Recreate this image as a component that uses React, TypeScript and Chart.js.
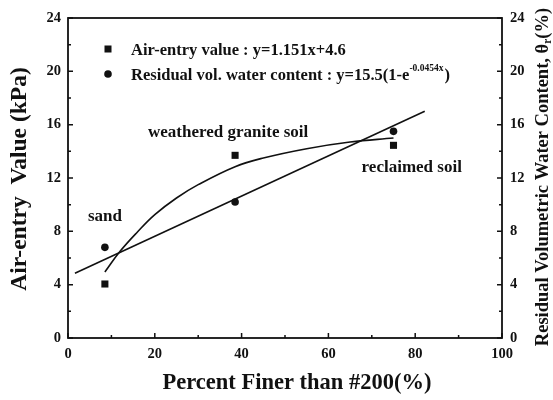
import React, { useEffect, useRef } from "react";
import { Chart, registerables } from "chart.js";

Chart.register(...registerables);

// Measured soils: percent finer than #200 sieve
const finesPct = [8.5, 38.5, 75];
// Air-entry value (kPa), left axis
const airEntryKPa = [4.05, 13.7, 14.45];
// Residual volumetric water content (%), right axis
const residualTheta = [6.8, 10.2, 15.5];
const soilNames = ["sand", "weathered granite soil", "reclaimed soil"];

// Fitted straight line (air-entry value)
const linearFitX = [1.6, 82.2];
const linearFitY = [4.85, 17.0];

// Fitted saturation curve (residual water content)
const expFitX = [8.5, 12, 16, 20, 25, 30, 38.5, 45, 55, 65, 75];
const expFitY = [4.95, 6.5, 7.95, 9.25, 10.5, 11.5, 12.85, 13.5, 14.2, 14.7, 15.0];

const xTickValues = [0, 20, 40, 60, 80, 100];
const yTickValues = [0, 4, 8, 12, 16, 20, 24];

const legendAir = "Air-entry value : y=1.151x+4.6";
const legendResidual = "Residual vol. water content : y=15.5(1-e";
const legendResidualExp = "-0.0454x";

const SERIF = "'Liberation Serif', 'Times New Roman', serif";
const INK = "#111111";

const framePlugin = {
  id: "frameAndText",
  afterDraw(chart: any) {
    const ctx: CanvasRenderingContext2D = chart.ctx;
    const { left, right, top, bottom } = chart.chartArea;
    const xs = chart.scales.x;
    const yl = chart.scales.y;
    ctx.save();
    ctx.strokeStyle = INK;
    ctx.fillStyle = INK;

    // frame
    ctx.lineWidth = 1.8;
    ctx.strokeRect(left, top, right - left, bottom - top);

    // inward tick marks
    ctx.lineWidth = 1.5;
    ctx.beginPath();
    for (let v = 0; v <= 100; v += 10) {
      const px = xs.getPixelForValue(v);
      const len = v % 20 === 0 ? 5 : 3;
      ctx.moveTo(px, bottom);
      ctx.lineTo(px, bottom - len);
    }
    for (let v = 0; v <= 24; v += 2) {
      const py = yl.getPixelForValue(v);
      const len = v % 4 === 0 ? 5 : 3;
      ctx.moveTo(left, py);
      ctx.lineTo(left + len, py);
      ctx.moveTo(right, py);
      ctx.lineTo(right - len, py);
    }
    ctx.stroke();

    // axis titles
    ctx.textBaseline = "middle";
    ctx.textAlign = "center";
    ctx.font = `bold 22.5px ${SERIF}`;
    ctx.fillText("Percent Finer than #200(%)", 297, 383);

    ctx.save();
    ctx.translate(20, 179);
    ctx.rotate(-Math.PI / 2);
    ctx.font = `bold 23.5px ${SERIF}`;
    ctx.fillText("Air-entry  Value (kPa)", 0, 0);
    ctx.restore();

    // right title with subscript r
    ctx.save();
    ctx.translate(543, 177);
    ctx.rotate(-Math.PI / 2);
    const mainFont = `bold 18.5px ${SERIF}`;
    const subFont = `bold 11.5px ${SERIF}`;
    const partA = "Residual Volumetric Water Content, \u03b8";
    const partSub = "r";
    const partB = "(%)";
    ctx.font = mainFont;
    const wA = ctx.measureText(partA).width;
    const wB = ctx.measureText(partB).width;
    ctx.font = subFont;
    const wS = ctx.measureText(partSub).width;
    let cx = -(wA + wS + wB) / 2;
    ctx.textAlign = "left";
    ctx.font = mainFont;
    ctx.fillText(partA, cx, 0);
    cx += wA;
    ctx.font = subFont;
    ctx.fillText(partSub, cx, 5);
    cx += wS;
    ctx.font = mainFont;
    ctx.fillText(partB, cx, 0);
    ctx.restore();

    // legend
    ctx.fillRect(108 - 3.5, 49 - 3.5, 7, 7);
    ctx.beginPath();
    ctx.arc(108, 74, 3.8, 0, Math.PI * 2);
    ctx.fill();
    ctx.textAlign = "left";
    ctx.textBaseline = "alphabetic";
    ctx.font = `bold 16.5px ${SERIF}`;
    ctx.fillText(legendAir, 131, 55);
    ctx.fillText(legendResidual, 131, 80);
    let lx = 131 + ctx.measureText(legendResidual).width;
    ctx.font = `bold 9.5px ${SERIF}`;
    ctx.fillText(legendResidualExp, lx, 71);
    lx += ctx.measureText(legendResidualExp).width;
    ctx.font = `bold 16.5px ${SERIF}`;
    ctx.fillText(")", lx + 1, 80);

    // soil annotations
    ctx.textBaseline = "middle";
    ctx.textAlign = "center";
    ctx.font = `bold 17px ${SERIF}`;
    const ann = [
      { t: soilNames[0], x: 8.5, y: 9.1 },
      { t: soilNames[1], x: 36.9, y: 15.4 },
      { t: soilNames[2], x: 79.2, y: 12.8 },
    ];
    for (const a of ann) {
      ctx.fillText(a.t, xs.getPixelForValue(a.x), yl.getPixelForValue(a.y));
    }
    ctx.restore();
  },
};

export default function App() {
  const canvasRef = useRef<HTMLCanvasElement | null>(null);

  useEffect(() => {
    document.body.style.margin = "0";
    const canvas = canvasRef.current;
    if (!canvas) return;

    const tickFont = { family: SERIF, weight: "bold" as const, size: 14.5 };

    const chart = new Chart(canvas, {
      type: "scatter",
      data: {
        datasets: [
          {
            label: "Air-entry value",
            data: finesPct.map((x, i) => ({ x, y: airEntryKPa[i] })),
            pointStyle: "rect",
            pointRadius: 5,
            backgroundColor: INK,
            borderColor: INK,
            borderWidth: 0,
            yAxisID: "y",
          },
          {
            label: "Residual vol. water content",
            data: finesPct.map((x, i) => ({ x, y: residualTheta[i] })),
            pointStyle: "circle",
            pointRadius: 3.8,
            backgroundColor: INK,
            borderColor: INK,
            borderWidth: 0,
            yAxisID: "y1",
          },
          {
            label: "linear fit",
            data: linearFitX.map((x, i) => ({ x, y: linearFitY[i] })),
            showLine: true,
            pointRadius: 0,
            borderColor: INK,
            borderWidth: 1.6,
            yAxisID: "y",
          },
          {
            label: "exponential fit",
            data: expFitX.map((x, i) => ({ x, y: expFitY[i] })),
            showLine: true,
            pointRadius: 0,
            borderColor: INK,
            borderWidth: 1.6,
            tension: 0.4,
            yAxisID: "y1",
          },
        ],
      },
      options: {
        animation: false,
        responsive: false,
        maintainAspectRatio: false,
        layout: { padding: { top: 18, left: 0, right: 0, bottom: 0 } },
        plugins: {
          legend: { display: false },
          tooltip: { enabled: false },
        },
        scales: {
          x: {
            type: "linear",
            min: 0,
            max: 100,
            afterBuildTicks: (s: any) => {
              s.ticks = xTickValues.map((v) => ({ value: v }));
            },
            afterFit: (s: any) => {
              s.height = 62;
            },
            grid: { display: false, drawTicks: false },
            border: { display: false },
            ticks: { font: tickFont, color: INK, padding: 8, maxRotation: 0 },
          },
          y: {
            type: "linear",
            position: "left",
            min: 0,
            max: 24,
            afterBuildTicks: (s: any) => {
              s.ticks = yTickValues.map((v) => ({ value: v }));
            },
            afterFit: (s: any) => {
              s.width = 68;
            },
            grid: { display: false, drawTicks: false },
            border: { display: false },
            ticks: { font: tickFont, color: INK, padding: 7 },
          },
          y1: {
            type: "linear",
            position: "right",
            min: 0,
            max: 24,
            afterBuildTicks: (s: any) => {
              s.ticks = yTickValues.map((v) => ({ value: v }));
            },
            afterFit: (s: any) => {
              s.width = 51;
            },
            grid: { display: false, drawTicks: false },
            border: { display: false },
            ticks: { font: tickFont, color: INK, padding: 8 },
          },
        },
      },
      plugins: [framePlugin],
    });

    return () => chart.destroy();
  }, []);

  return (
    <div style={{ position: "absolute", left: 0, top: 0, width: 553, height: 400, background: "#fff" }}>
      <canvas ref={canvasRef} width={553} height={400} style={{ width: 553, height: 400, display: "block" }} />
    </div>
  );
}
